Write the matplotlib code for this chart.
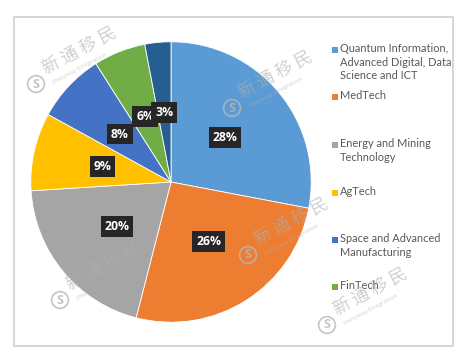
import matplotlib.pyplot as plt
from matplotlib.patches import Rectangle

plt.rcParams['font.family'] = ['Open Sans', 'DejaVu Sans']

sectors = ['Quantum Information,\nAdvanced Digital, Data\nScience and ICT',
           'MedTech',
           'Energy and Mining\nTechnology',
           'AgTech',
           'Space and Advanced\nManufacturing',
           'FinTech',
           'Other']
shares = [28, 26, 20, 9, 8, 6, 3]
colors = ['#5B9BD5', '#ED7D31', '#A5A5A5', '#FFC000', '#4472C4', '#70AD47', '#255E91']

W, H = 465, 356
fig = plt.figure(figsize=(W / 100, H / 100), dpi=100)
fig.patch.set_facecolor('white')

# chart frame
fig.patches.append(Rectangle((14 / W, 1 - 346 / H), 439 / W, 329 / H,
                             transform=fig.transFigure, fill=False,
                             edgecolor='#cfcfcf', lw=1.2))

cx, cy, r = 171, 182, 143
ax = fig.add_axes([(cx - r) / W, 1 - (cy + r) / H, 2 * r / W, 2 * r / H])
wedges, texts = ax.pie(shares, colors=colors, startangle=90, counterclock=False,
                       radius=1, labels=[f'{s}%' for s in shares], labeldistance=0.5,
                       wedgeprops=dict(edgecolor='white', linewidth=0.6))
for t in texts:
    t.set_ha('center')
    t.set_va('center')
    t.set_color('white')
    t.set_fontsize(8.8)
    t.set_fontweight('bold')
    t.set_bbox(dict(boxstyle='square,pad=0.32', facecolor='#262626', edgecolor='none'))
ax.set_xlim(-1.02, 1.02)
ax.set_ylim(-1.02, 1.02)
ax.axis('off')

# legend, drawn by hand to follow the original spacing
legend_y = [50, 97, 145, 193, 240, 287]
for name, col, y in zip(sectors[:6], colors[:6], legend_y):
    fig.patches.append(Rectangle((332 / W, 1 - (y + 3) / H), 6 / W, 6 / H,
                                 transform=fig.transFigure, facecolor=col,
                                 edgecolor='none'))
    fig.text(340 / W, 1 - (y - 7) / H, name, fontsize=7.9, color='#595959',
             family=['Lato', 'DejaVu Sans'],
             va='top', ha='left', linespacing=1.3)

# watermarks
marks = [(36, 84), (232, 108), (60, 300), (248, 255), (327, 325)]
for x, y in marks:
    fig.text(x / W, 1 - y / H, 'S', fontsize=9, color='#b8b8b8', alpha=0.8,
             ha='center', va='center', fontweight='bold',
             bbox=dict(boxstyle='circle,pad=0.15', facecolor='none',
                       edgecolor='#b8b8b8', alpha=0.8, lw=1.2))
    fig.text((x + 12) / W, 1 - (y - 6) / H, '新 通 移 民', fontsize=12.5,
             family=['Noto Sans CJK SC', 'DejaVu Sans'], color='#b0b0b0',
             alpha=0.6, rotation=28, rotation_mode='anchor',
             ha='left', va='bottom')
    fig.text((x + 17) / W, 1 - (y - 1) / H, 'Shinyway Emigration', fontsize=4.5,
             color='#b0b0b0', alpha=0.6, rotation=28, rotation_mode='anchor',
             ha='left', va='center')

fig.savefig('out.png', dpi=100)
